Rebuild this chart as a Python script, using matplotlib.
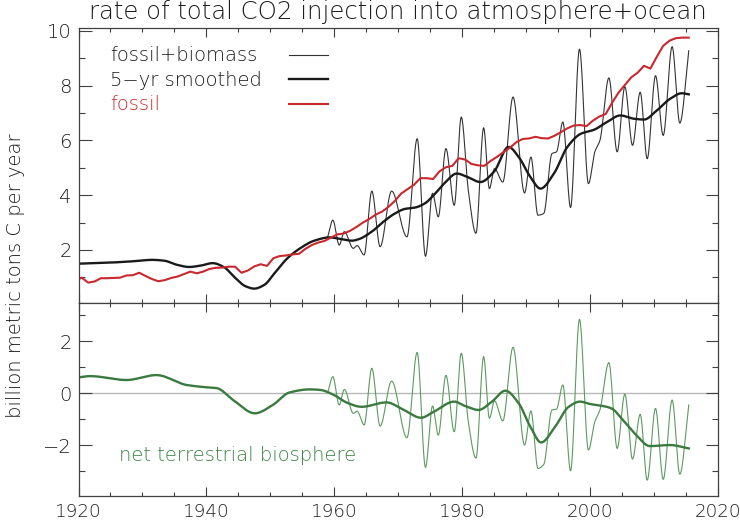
import numpy as np
import matplotlib
matplotlib.use("Agg")
import matplotlib.pyplot as plt
from matplotlib.lines import Line2D
from matplotlib.ticker import MultipleLocator

# fossil emissions, annual (plotted at mid-year)
fossil_years = np.arange(1919, 2016)
fossil = [0.88, 0.99, 0.81, 0.85, 0.97, 0.97, 0.98, 0.99, 1.07, 1.08,
          1.17, 1.05, 0.94, 0.86, 0.90, 0.98, 1.03, 1.12, 1.21, 1.15,
          1.21, 1.31, 1.35, 1.36, 1.39, 1.39, 1.17, 1.25, 1.40, 1.48,
          1.42, 1.70, 1.78, 1.80, 1.84, 1.86, 2.04, 2.18, 2.27, 2.33,
          2.45, 2.57, 2.60, 2.70, 2.84, 3.00, 3.13, 3.29, 3.40, 3.57,
          3.79, 4.06, 4.22, 4.38, 4.62, 4.62, 4.59, 4.87, 5.02, 5.07,
          5.35, 5.30, 5.14, 5.09, 5.07, 5.25, 5.40, 5.57, 5.73, 5.93,
          6.05, 6.07, 6.13, 6.08, 6.07, 6.17, 6.30, 6.44, 6.54, 6.56,
          6.52, 6.72, 6.87, 6.96, 7.37, 7.74, 8.02, 8.30, 8.47, 8.72,
          8.62, 9.05, 9.45, 9.64, 9.73, 9.75, 9.75]

# fossil+biomass and net terrestrial biosphere (turning points of the thin curves)
osc_years = [1959.0, 1959.8, 1960.8, 1961.6, 1963.0, 1963.6, 1964.7, 1965.9, 1967.2, 1969.0,
             1971.4, 1973.0, 1974.3, 1975.4, 1976.3, 1977.5, 1978.8, 1979.9, 1981.0, 1982.2,
             1983.4, 1984.3, 1985.1, 1986.4, 1988.0, 1989.8, 1990.8, 1991.9, 1992.8, 1994.1,
             1994.8, 1995.8, 1997.0, 1998.4, 1999.8, 2000.8, 2001.6, 2003.0, 2004.3, 2005.5,
             2006.7, 2007.9, 2009.0, 2010.3, 2011.5, 2012.9, 2014.1, 2015.5]
total = [2.48, 3.09, 2.18, 2.67, 2.06, 2.16, 1.82, 4.15, 2.12, 4.15,
         2.48, 6.06, 1.77, 4.07, 3.21, 5.70, 3.63, 6.85, 4.18, 2.61,
         6.46, 4.24, 4.97, 4.48, 7.58, 4.08, 5.39, 3.27, 3.33, 5.52,
         5.58, 6.67, 3.55, 9.33, 4.42, 5.58, 6.00, 8.28, 5.58, 7.96,
         5.82, 7.76, 5.33, 8.36, 6.18, 9.42, 6.63, 9.27]
land = [0.02, 0.63, -0.46, 0.14, -0.78, -0.70, -1.23, 0.95, -1.27, 0.46,
        -1.72, 1.56, -2.86, -0.50, -1.62, 0.68, -1.49, 1.53, -1.10, -2.50,
        1.40, -0.97, -0.30, -1.07, 1.76, -2.00, -0.69, -2.90, -2.75, -0.65,
        -0.62, 0.31, -2.99, 2.83, -2.19, -1.10, -0.65, 1.17, -2.13, -0.04,
        -2.54, -0.82, -3.35, -0.59, -3.32, -0.27, -3.12, -0.46]

# 5-yr smoothed total
total_s_years = [1920.0, 1925.0, 1928.6, 1931.5, 1933.4, 1935.4, 1937.3, 1939.1, 1941.0, 1942.8,
                 1944.3, 1946.2, 1947.5, 1949.1, 1950.6, 1952.7, 1954.8, 1956.9, 1959.3, 1960.8,
                 1962.8, 1963.8, 1965.9, 1967.7, 1969.5, 1971.1, 1972.7, 1974.2, 1975.5, 1977.2,
                 1979.2, 1980.8, 1982.9, 1985.0, 1987.3, 1988.9, 1990.7, 1992.3, 1994.4, 1996.5,
                 1998.6, 2000.7, 2002.7, 2004.8, 2006.9, 2008.5, 2010.5, 2012.6, 2014.4, 2015.5]
total_s = [1.50, 1.54, 1.59, 1.64, 1.61, 1.46, 1.38, 1.43, 1.52, 1.37,
           1.03, 0.67, 0.59, 0.73, 1.13, 1.70, 2.08, 2.34, 2.46, 2.41,
           2.34, 2.39, 2.67, 3.03, 3.33, 3.50, 3.55, 3.70, 3.98, 4.42,
           4.79, 4.67, 4.48, 4.85, 5.76, 5.39, 4.67, 4.24, 4.79, 5.76,
           6.24, 6.39, 6.67, 6.91, 6.79, 6.76, 7.09, 7.52, 7.72, 7.68]

# smoothed net terrestrial biosphere
land_s_years = [1920.0, 1921.8, 1927.5, 1932.2, 1936.9, 1940.0, 1941.6, 1944.2, 1947.6, 1950.4,
                1953.0, 1956.2, 1957.8, 1960.0, 1962.0, 1964.3, 1968.2, 1970.9, 1973.6, 1975.6,
                1978.8, 1980.5, 1982.6, 1984.7, 1986.8, 1988.9, 1990.7, 1992.4, 1994.6, 1996.7,
                1998.5, 2000.0, 2002.1, 2003.4, 2005.2, 2007.3, 2009.4, 2012.6, 2015.5]
land_s = [0.60, 0.65, 0.50, 0.69, 0.31, 0.22, 0.19, -0.27, -0.78, -0.46,
          0.02, 0.14, 0.12, -0.08, -0.37, -0.53, -0.36, -0.65, -0.95, -0.72,
          -0.33, -0.50, -0.65, -0.33, 0.09, -0.40, -1.29, -1.90, -1.29, -0.53,
          -0.33, -0.42, -0.50, -0.59, -1.04, -1.62, -2.04, -2.00, -2.13]

legend_labels = ["fossil+biomass", "5\u2212yr smoothed", "fossil"]

RED = "#c8282e"
INK = "#1c1c1c"
GREEN_THIN = "#5b9a5f"
GREEN_THICK = "#3b7a3f"
GREEN_TEXT = "#3a8240"


def pchip(x, y, n=3000):
    """Monotone cubic curve through the points, for drawing smooth lines."""
    x = np.asarray(x, float)
    y = np.asarray(y, float)
    h = np.diff(x)
    d = np.diff(y) / h
    m = np.zeros_like(y)
    for k in range(1, len(x) - 1):
        if d[k - 1] * d[k] > 0:
            w1 = 2 * h[k] + h[k - 1]
            w2 = h[k] + 2 * h[k - 1]
            m[k] = (w1 + w2) / (w1 / d[k - 1] + w2 / d[k])
    m[0], m[-1] = d[0], d[-1]
    xs = np.linspace(x[0], x[-1], n)
    i = np.clip(np.searchsorted(x, xs) - 1, 0, len(h) - 1)
    t = (xs - x[i]) / h[i]
    ys = ((2 * t**3 - 3 * t**2 + 1) * y[i] + (t**3 - 2 * t**2 + t) * h[i] * m[i]
          + (-2 * t**3 + 3 * t**2) * y[i + 1] + (t**3 - t**2) * h[i] * m[i + 1])
    return xs, ys


plt.rcParams["font.family"] = ["DejaVu Sans"]
plt.rcParams["font.weight"] = "light"

fig = plt.figure(figsize=(7.4, 5.25), dpi=100)
ax1 = fig.add_axes([0.1061, 0.4223, 0.8635, 0.5238])
ax2 = fig.add_axes([0.1061, 0.0552, 0.8635, 0.3671], sharex=ax1)

# top panel
thin_line, = ax1.plot(*pchip(osc_years, total), color="#333333", lw=0.8)
thick_line, = ax1.plot(*pchip(total_s_years, total_s), color="#1a1a1a", lw=1.7)
red_line, = ax1.plot(fossil_years + 0.5, fossil, color=RED, lw=1.5)

# bottom panel
ax2.axhline(0, color="#b8b8b8", lw=1.0, zorder=1)
ax2.plot(*pchip(osc_years, land), color=GREEN_THIN, lw=0.8)
ax2.plot(*pchip(land_s_years, land_s), color=GREEN_THICK, lw=1.7)
ax2.text(1926.3, -2.41, "net terrestrial biosphere", color=GREEN_TEXT,
         fontsize=14, ha="left", va="center")

ax1.set_xlim(1920, 2020)
ax1.set_ylim(0.055, 10.09)
ax2.set_ylim(-3.96, 3.45)

for ax in (ax1, ax2):
    ax.xaxis.set_major_locator(MultipleLocator(20))
    ax.xaxis.set_minor_locator(MultipleLocator(5))
    ax.yaxis.set_major_locator(MultipleLocator(2))
    ax.yaxis.set_minor_locator(MultipleLocator(1))
    ax.tick_params(which="both", direction="in", top=True, right=True,
                   color="#404040", width=0.8, labelsize=14, labelcolor=INK)
    ax.tick_params(axis="x", which="major", length=6.7, pad=5, labelsize=13.2)
    ax.tick_params(axis="x", which="minor", length=3.2)
    ax.tick_params(axis="y", which="major", length=9, pad=4.8)
    ax.tick_params(axis="y", which="minor", length=4.6)
    for s in ax.spines.values():
        s.set_color("#404040")
        s.set_linewidth(0.9)
ax1.tick_params(labelbottom=False)

ax1.set_title("rate of total CO2 injection into atmosphere+ocean",
              fontsize=17.6, fontweight="light", color=INK, pad=7)
fig.text(0.021, 0.475, "billion metric tons C per year", rotation=90,
         ha="center", va="center", fontsize=14, color=INK)

# legend: labels on the left, line samples further right
blank = [Line2D([], [], linestyle="none") for _ in legend_labels]
leg1 = ax1.legend(blank, legend_labels, loc="upper left", bbox_to_anchor=(0.049, 0.934),
                  frameon=False, borderpad=0, borderaxespad=0, handlelength=0,
                  handletextpad=0, labelspacing=0.28, fontsize=14,
                  labelcolor=[INK, INK, RED])
ax1.add_artist(leg1)
ax1.legend([thin_line, thick_line, red_line], ["", "", ""], loc="upper left",
           bbox_to_anchor=(0.330, 0.934), frameon=False, borderpad=0, borderaxespad=0,
           handlelength=1.98, handletextpad=0, labelspacing=0.28, fontsize=14)

fig.savefig("out.png", dpi=100)
